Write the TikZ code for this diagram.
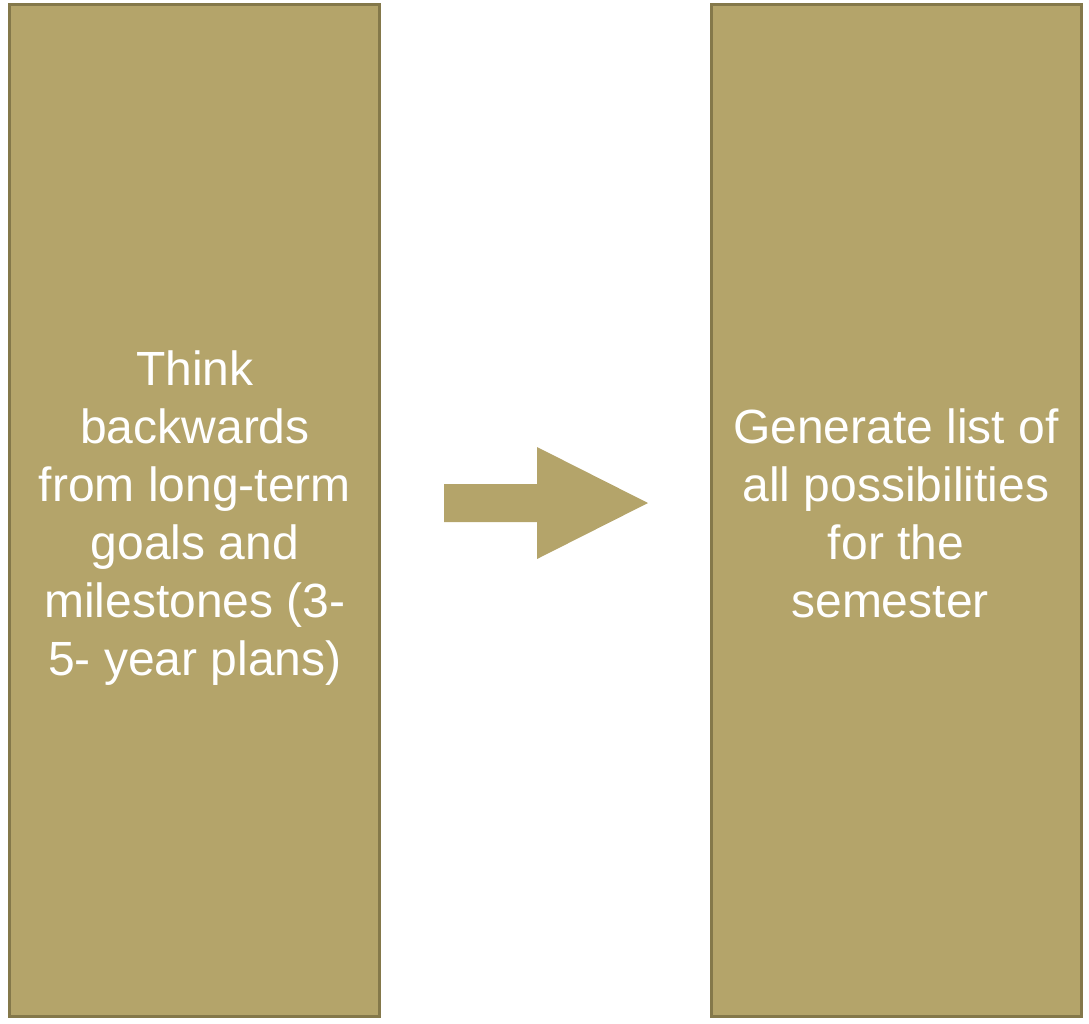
\documentclass[tikz,border=0pt]{standalone}
\usepackage{fontspec}
\setmainfont{Liberation Sans}
\definecolor{boxfill}{RGB}{180,164,106}
\definecolor{boxline}{RGB}{132,120,74}
\begin{document}
\begin{tikzpicture}[x=1pt,y=-1pt,
  colbox/.style={draw=boxline,line width=3pt,fill=boxfill},
  boxtext/.style={text=white,align=center,font=\fontsize{48}{58}\selectfont,inner sep=0pt}]
\useasboundingbox (0,0) rectangle (1089,1023);
\path[colbox] (9.5,4.5) rectangle (379.5,1016.5);
\path[colbox] (711.5,4.5) rectangle (1081.5,1016.5);
\node[boxtext] (lt) at (195,518) {Think\\backwards\\from long-term\\goals and\\milestones (3-\\5- year plans)};
\node[boxtext] (rt) at (896,513) {Generate list of\\all possibilities\\for the\\\mbox{semester\hspace{12pt}}};
\fill[boxfill] (444,484) -- (537,484) -- (537,447) -- (648,503) -- (537,559) -- (537,522) -- (444,522) -- cycle;
\end{tikzpicture}
\end{document}
